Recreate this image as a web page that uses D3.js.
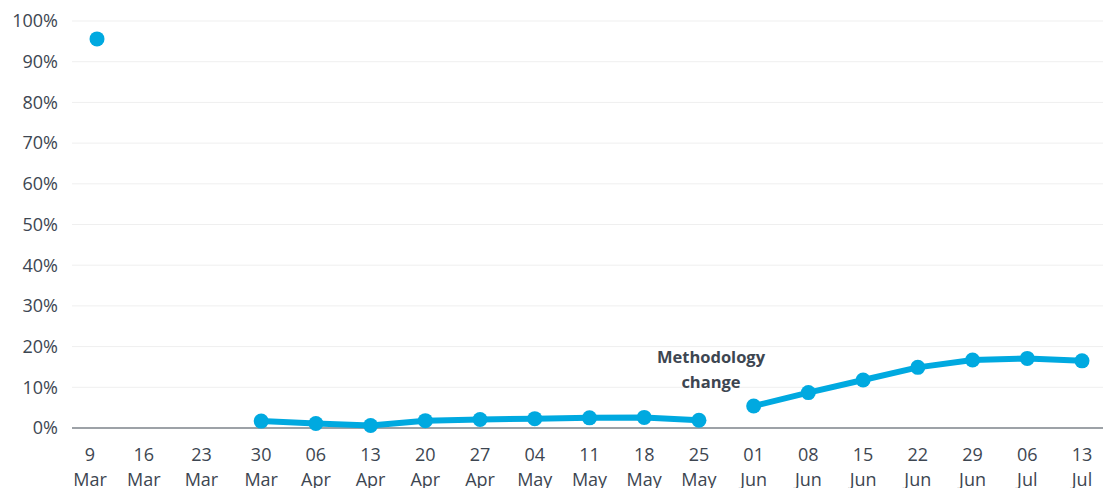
<!DOCTYPE html>
<html>
<head>
<meta charset="utf-8">
<script src="https://cdn.jsdelivr.net/npm/d3@7"></script>
<style>
  body { margin: 0; background: #fff; }
  text { font-family: "Open Sans", Lato, sans-serif; fill: #3d4651; }
</style>
</head>
<body>
<svg id="chart" width="1103" height="488"></svg>
<script>
// weekly dates (two-line labels)
const days   = ["9", "16", "23", "30", "06", "13", "20", "27", "04", "11", "18", "25", "01", "08", "15", "22", "29", "06", "13"];
const months = ["Mar", "Mar", "Mar", "Mar", "Apr", "Apr", "Apr", "Apr", "May", "May", "May", "May", "Jun", "Jun", "Jun", "Jun", "Jun", "Jul", "Jul"];
// share (%) before and after the methodology change
const oldMethod = [95.6, null, null, 1.7, 1.1, 0.6, 1.8, 2.1, 2.3, 2.5, 2.6, 1.9, null, null, null, null, null, null, null];
const newMethod = [null, null, null, null, null, null, null, null, null, null, null, null, 5.4, 8.7, 11.8, 14.9, 16.7, 17.1, 16.5];
const yTicks = [0, 10, 20, 30, 40, 50, 60, 70, 80, 90, 100];

var svg = d3.select("#chart");
var plotLeft = 72, plotRight = 1103, plotTop = 21, plotBottom = 428;

var x = d3.scalePoint().domain(d3.range(days.length)).range([97, 1082]);
var y = d3.scaleLinear().domain([0, 100]).range([plotBottom, plotTop]);

// grid
svg.append("g")
    .selectAll("line")
    .data(yTicks.filter(d => d > 0))
    .enter().append("line")
    .attr("x1", plotLeft).attr("x2", plotRight)
    .attr("y1", d => y(d)).attr("y2", d => y(d))
    .attr("stroke", "#efefef")
    .attr("stroke-width", 1);

// y labels
svg.append("g")
    .selectAll("text")
    .data(yTicks)
    .enter().append("text")
    .attr("x", 58)
    .attr("y", d => y(d))
    .attr("dy", "0.35em")
    .attr("text-anchor", "end")
    .style("font-size", "18px")
    .text(d => d + "%");

// zero line
svg.append("line")
    .attr("x1", plotLeft).attr("x2", plotRight)
    .attr("y1", y(0)).attr("y2", y(0))
    .attr("stroke", "#3d4651")
    .attr("stroke-width", 1.2);

// x labels (first three sit a little left of their points in the original)
var nudge = i => (i < 3 ? [7, 8, 5][i] : 0);
var xl = svg.append("g")
    .selectAll("text")
    .data(days)
    .enter().append("text")
    .attr("x", (d, i) => x(i) - nudge(i))
    .attr("y", 461)
    .attr("text-anchor", "middle")
    .style("font-size", "18px");
xl.append("tspan").text(d => d);
xl.append("tspan")
    .attr("x", (d, i) => x(i) - nudge(i))
    .attr("dy", 25)
    .text((d, i) => months[i]);

var blue = "#00a9e0";
var line = d3.line()
    .defined(d => d != null)
    .x((d, i) => x(i))
    .y(d => y(d));

[oldMethod, newMethod].forEach(series => {
    svg.append("path")
        .datum(series)
        .attr("fill", "none")
        .attr("stroke", blue)
        .attr("stroke-width", 6)
        .attr("stroke-linejoin", "round")
        .attr("d", line);

    svg.append("g")
        .selectAll("circle")
        .data(series.map((v, i) => ({v: v, i: i})).filter(d => d.v != null))
        .enter().append("circle")
        .attr("cx", d => x(d.i))
        .attr("cy", d => y(d.v))
        .attr("r", 7.5)
        .attr("fill", blue);
});

// annotation
svg.append("text")
    .attr("x", 711)
    .attr("y", 363)
    .attr("text-anchor", "middle")
    .style("font-size", "16.5px")
    .style("font-weight", "bold")
    .selectAll("tspan")
    .data(["Methodology", "change"])
    .enter().append("tspan")
    .attr("x", 711)
    .attr("dy", (d, i) => (i === 0 ? 0 : 25))
    .text(d => d);
</script>
</body>
</html>
